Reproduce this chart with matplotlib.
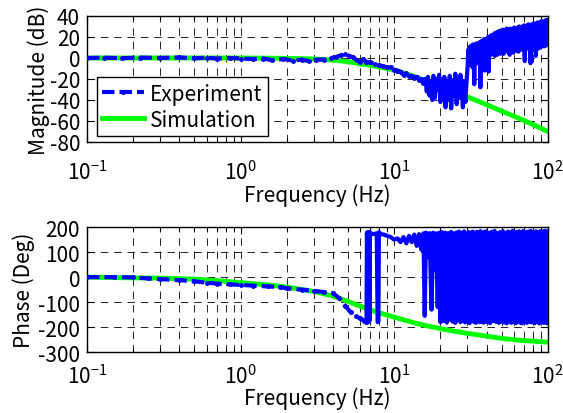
import matplotlib
matplotlib.use("Agg")
import numpy as np
import matplotlib.pyplot as plt
from matplotlib.ticker import LogLocator, MultipleLocator

plt.rcParams['font.family'] = ['Noto Sans CJK JP', 'DejaVu Sans']
plt.rcParams['font.size'] = 15
plt.rcParams['axes.unicode_minus'] = False

# measured response (magnitude)
mag_freq = [0.1, 0.13, 0.17, 0.22, 0.3, 0.4, 0.5, 0.6, 0.7, 0.85, 1.0, 1.2, 1.4, 1.6, 1.9,
            2.2, 2.5, 2.8, 3.1, 3.5, 3.9, 4.2, 4.5, 4.8, 5.1, 5.4, 5.7, 6.0, 6.3, 6.6,
            7.0, 7.5, 8.0, 8.5, 9.0, 9.5, 10.0, 10.5, 11.0, 11.5, 12.0, 12.5, 13.0, 13.5,
            14.0, 14.5, 15.0, 15.5, 16.0,
            16.3, 16.6, 17.0, 17.3, 17.7, 18.0, 18.4, 18.8, 19.2, 19.6, 20.0, 20.4, 20.8,
            21.2, 21.6, 22.0, 22.5, 23.0, 23.5, 24.0, 24.5, 25.0, 25.5, 26.0, 26.5, 27.0,
            27.5, 28.0, 28.5, 29.0, 29.5,
            30.0, 30.4, 30.8, 31.2, 31.6, 32.0, 32.4, 32.8, 33.2, 33.6,
            34.0, 34.4, 34.8, 35.2, 35.6, 36.0, 36.4, 36.8, 37.2, 37.6,
            38.0, 38.4, 38.8, 39.2, 39.6, 40.0, 40.4, 40.8, 41.2, 41.6,
            42.0, 42.4, 42.8, 43.2, 43.6, 44.0, 44.4, 44.8, 45.2, 45.6,
            46.0, 46.4, 46.8, 47.2, 47.6, 48.0, 48.4, 48.8, 49.2, 49.6,
            50.0, 50.8, 51.6, 52.4, 53.2, 54.0, 54.8, 55.6, 56.4, 57.2,
            58.0, 58.8, 59.6, 60.4, 61.2, 62.0, 62.8, 63.6, 64.4, 65.2,
            66.0, 66.8, 67.6, 68.4, 69.2, 70.0, 70.8, 71.6, 72.4, 73.2,
            74.0, 74.8, 75.6, 76.4, 77.2, 78.0, 78.8, 79.6, 80.4, 81.2,
            82.0, 82.8, 83.6, 84.4, 85.2, 86.0, 86.8, 87.6, 88.4, 89.2,
            90.0, 90.8, 91.6, 92.4, 93.2, 94.0, 94.8, 95.6, 96.4, 97.2,
            98.0, 98.8, 99.4, 100.0]
mag_db = [0, 0.3, -0.2, 0.4, 0, 0.5, -0.3, 0.3, -0.5, 0, -0.5, -1, -0.5, -2, -1,
          -2.5, -1.5, -3, -1.5, -1.5, 0, 1, 2.5, 4, 2, 0.5, -2, -3.5, -1, -4,
          -4, -6, -7, -8, -9, -9, -11, -12, -13, -16, -14, -17, -17, -19,
          -18, -21, -20, -24, -20,
          -32, -18, -36, -22, -40, -17, -38, -20, -30, -16, -42, -20, -35,
          -18, -47, -22, -40, -17, -48, -21, -36, -15, -44, -20, -38, -16,
          -30, -47, -22, -42, -25,
          -10, 8, -6, 11, -4, 12, -9, 13, -25, 10,
          -2, 14, -5, 13, 2, 15, -28, 16, 0, 15,
          3, 18, -12, 17, 2, 18, 4, 20, -13, 19,
          5, 21, 3, 22, 6, 21, 4, 23, 2, 24,
          6, 23, 3, 25, 7, 24, 5, 26, 4, 25,
          8, 27, 4, 26, 9, 28, 6, 27, 3, 28,
          9, 27, 5, 29, 10, 28, 7, 29, 6, 30,
          11, 29, 8, 30, 12, 31, -3, 30, 10, 31,
          9, 32, 12, 30, -5, 32, 11, 31, 8, 33,
          12, 32, 2, 33, 11, 34, 9, 33, 13, 34,
          10, 35, 12, 33, 14, 35, 11, 34, 13, 36,
          12, 35, 14, 36]

# measured response (phase)
ph_freq = [0.1, 0.15, 0.2, 0.25, 0.3, 0.4, 0.5, 0.6, 0.7, 0.85, 1.0, 1.2, 1.5, 1.8, 2.0,
           2.5, 3.0, 3.5, 4.0, 4.4, 4.8, 5.2, 5.6, 6.0, 6.4, 6.6, 6.65, 6.7, 6.75, 6.8,
           6.85, 6.9, 6.95, 7.0, 7.3, 7.7, 7.8, 7.9, 7.95, 8.2, 8.6, 9.0, 9.5, 10.0,
           10.5, 11.0, 11.5, 12.0, 12.5, 13.0, 13.5, 14.0, 14.5, 15.0, 15.5, 15.8, 16.1,
           16.5, 17.0, 17.5, 17.9, 18.3, 18.7, 19.2, 19.6,
           20.0, 20.5, 21.0, 21.5, 22.0, 22.5, 23.0, 23.5, 24.0, 24.5, 25.0, 25.5, 26.0,
           26.5, 27.0, 27.5, 28.0, 28.5, 29.0, 29.5, 30.0, 30.5, 31.0, 31.5, 32.0, 32.5,
           33.0, 33.5, 34.0, 34.5, 35.0, 35.5, 36.0, 36.5, 37.0, 37.5, 38.0, 38.5, 39.0,
           39.5, 40.0, 41.0, 42.0, 43.0, 44.0, 45.0, 46.0, 47.0, 48.0, 49.0, 50.0, 51.0,
           52.0, 53.0, 54.0, 55.0, 56.0, 57.0, 58.0, 59.0, 60.0, 61.0, 62.0, 63.0, 64.0,
           65.0, 66.0, 67.0, 68.0, 69.0, 70.0, 71.5, 73.0, 74.5, 76.0, 77.5, 79.0, 80.5,
           82.0, 83.5, 85.0, 86.5, 88.0, 89.5, 91.0, 92.5, 94.0, 95.5, 97.0, 98.5, 100.0]
ph_deg = [0, 0, -1, -5, -8, -12, -17, -22, -26, -29, -31, -34, -37, -40, -45,
          -50, -55, -60, -64, -85, -115, -140, -155, -165, -175, -180, 178, -178, 180, -180,
          178, -175, 180, 175, 172, 175, -180, -178, 180, 172, 170, 165, 160, 150,
          155, 140, 160, 135, 165, 140, 170, 125, 172, 110, 175, -155, 178,
          80, 176, -130, 178, 30, 175, -120, 178,
          -180, 180, -175, 178, -182, 176, -170, 181, -178, 175, -183, 179, -172,
          182, -180, 177, -176, 183, -181, 174, -178, 180, -184, 178, -175, 182,
          -179, 176, -183, 181, -172, 179, -180, 184, -177, 176, -182, 180, -175,
          183, -180, 178, -184, 181, -176, 185, -179, 177, -183, 180, -178, 184,
          -181, 176, -185, 182, -177, 179, -183, 185, -180, 178, -184, 181, -176,
          183, -182, 179, -185, 184, -178, 180, -183, 182, -179, 185, -181, 178,
          -184, 183, -180, 181, -185, 184, -179, 182, -183, 185, -181, 183, -184]

# where the measurement turns noisy
mag_noisy_from = 16.0
ph_noisy_from = 6.6

# model
sim_freq = [0.1, 0.2, 0.3, 0.5, 0.7, 1, 1.5, 2, 3, 4, 5, 6, 7, 8, 10, 12, 15, 20, 25,
            30, 40, 50, 70, 100]
sim_db = [0, 0, 0, 0, 0, 0, -0.2, -0.4, -0.9, -2, -3.5, -5.5, -7, -8.5, -11.5, -15,
          -20, -27, -32.5, -37, -44.5, -50.5, -59.5, -70]
sim_deg = [0, -3, -4, -8, -14, -22, -31, -40, -57, -76, -97, -116, -131, -143, -160,
           -174, -190, -206, -217, -225, -236, -245, -254, -260]

BLUE = '#0000ff'
GREEN = '#00ff00'

fig = plt.figure(figsize=(5.63, 4.14), dpi=100)
ax1 = fig.add_axes([0.1545, 0.6546, 0.8185, 0.3044])
ax2 = fig.add_axes([0.1545, 0.147, 0.8185, 0.302])


def style(ax, xpad=13):
    ax.set_xscale('log')
    ax.set_xlim(0.1, 100)
    ax.xaxis.set_major_locator(LogLocator(base=10))
    ax.xaxis.set_minor_locator(LogLocator(base=10, subs=range(2, 10)))
    ax.tick_params(which='both', direction='in', top=True, right=True, width=0.8)
    ax.tick_params(which='major', length=5, pad=5)
    ax.tick_params(which='minor', length=3)
    ax.tick_params(axis='x', which='major', pad=xpad)
    ax.grid(True, which='both', color='k', lw=0.6, dashes=(9, 7))
    for s in ax.spines.values():
        s.set_linewidth(1.0)
    ax.set_xlabel('Frequency (Hz)', labelpad=0)


def plot_exp(ax, f, v, split, label=None):
    f = np.asarray(f)
    v = np.asarray(v)
    k = np.searchsorted(f, split) + 1
    ax.plot(f[:k], v[:k], color=BLUE, lw=3, marker='.', ms=5, dashes=(3, 1.2),
            label=label, zorder=3)
    # the noisy part is so dense it reads as a solid band
    ax.plot(f[k - 1:], v[k - 1:], color=BLUE, lw=3, zorder=3)


plot_exp(ax1, mag_freq, mag_db, mag_noisy_from, 'Experiment')
ax1.plot(sim_freq, sim_db, color=GREEN, lw=3.5, marker='.', ms=4,
         label='Simulation', zorder=2)
style(ax1)
ax1.set_ylim(-80, 40)
ax1.yaxis.set_major_locator(MultipleLocator(20))
ax1.set_ylabel('Magnitude (dB)', labelpad=0)
leg = ax1.legend(loc='lower left', bbox_to_anchor=(0.022, 0.048), borderaxespad=0,
                 fancybox=False, framealpha=1, edgecolor='k', handlelength=2.0,
                 handletextpad=0.3, borderpad=0.25, labelspacing=0.2)
leg.get_frame().set_linewidth(1.0)

ax2.plot(sim_freq, sim_deg, color=GREEN, lw=3.5, zorder=2)
plot_exp(ax2, ph_freq, ph_deg, ph_noisy_from)
style(ax2, xpad=9)
ax2.xaxis.labelpad = -1
ax2.set_ylim(-300, 200)
ax2.yaxis.set_major_locator(MultipleLocator(100))
ax2.set_ylabel('Phase (Deg)', labelpad=2)

fig.savefig('out.png', dpi=100)
